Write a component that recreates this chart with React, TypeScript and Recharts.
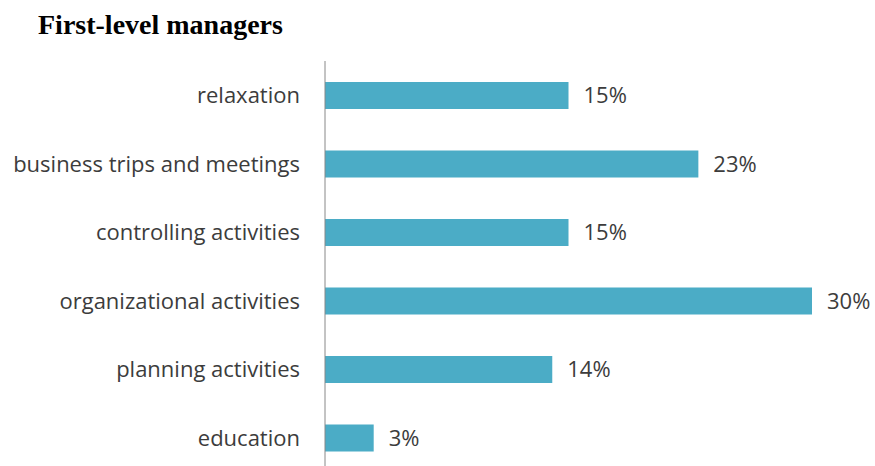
import React from 'react';
import { BarChart, Bar, XAxis, YAxis, LabelList } from 'recharts';

const categories = [
  'relaxation',
  'business trips and meetings',
  'controlling activities',
  'organizational activities',
  'planning activities',
  'education',
];
const shares = [15, 23, 15, 30, 14, 3];

const data = categories.map((name, i) => ({ name, value: shares[i] }));

const FONT = '"Open Sans", Lato, sans-serif';

export default function App() {
  return (
    <div style={{ position: 'absolute', left: 0, top: 0, width: 875, height: 466, overflow: 'hidden', background: '#fff' }}>
      <div
        style={{
          position: 'absolute',
          left: 38,
          top: 9,
          fontFamily: '"Liberation Serif", "Times New Roman", serif',
          fontWeight: 'bold',
          fontSize: 28,
          lineHeight: 'normal',
          color: '#000',
          whiteSpace: 'nowrap',
        }}
      >
        First-level managers
      </div>
      <BarChart
        width={875}
        height={472}
        data={data}
        layout="vertical"
        margin={{ top: 61, right: 63, bottom: 0, left: 0 }}
        barSize={27}
      >
        <XAxis type="number" domain={[0, 30]} hide />
        <YAxis
          type="category"
          dataKey="name"
          width={325}
          axisLine={{ stroke: '#888888', strokeWidth: 1 }}
          tickLine={false}
          tickSize={0}
          tickMargin={25}
          tick={{ fill: '#3c3c3c', fontSize: 22, fontFamily: FONT }}
          interval={0}
        />
        <Bar dataKey="value" fill="#4BACC6" isAnimationActive={false}>
          <LabelList
            dataKey="value"
            position="right"
            offset={15}
            formatter={(v: number) => `${v}%`}
            style={{ fill: '#3c3c3c', fontSize: 22, fontFamily: FONT }}
          />
        </Bar>
      </BarChart>
    </div>
  );
}
